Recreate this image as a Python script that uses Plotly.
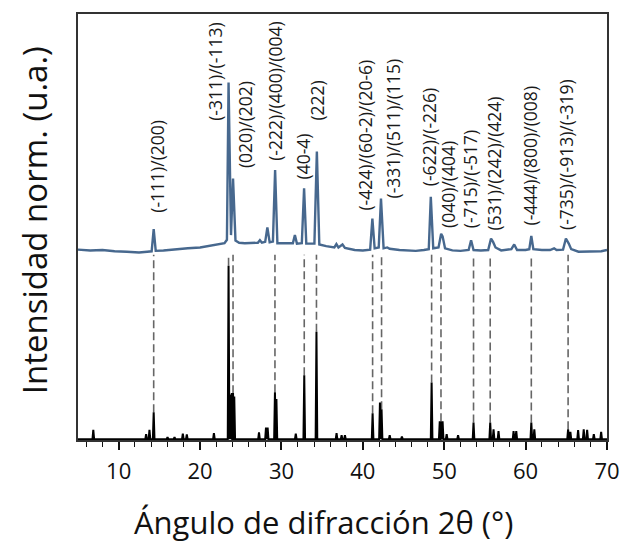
import plotly.graph_objects as go

blue_x = [5.0, 6.5, 8.0, 9.5, 11.0, 12.5, 13.5, 14.05, 14.3, 14.55, 15.5, 17.0, 18.5, 20.0,
          21.0, 22.0, 23.0, 23.3, 23.5, 23.8, 24.05, 24.35, 24.8, 25.5, 26.5, 27.1, 27.35,
          27.6, 28.0, 28.27, 28.55, 28.95, 29.22, 29.5, 30.5, 31.4, 31.65, 31.9, 32.5, 32.78,
          33.05, 34.05, 34.35, 34.65, 35.5, 36.5, 36.75, 37.0, 37.5, 37.8, 39.0, 40.0, 40.9,
          41.17, 41.45, 41.95, 42.23, 42.55, 43.0, 43.3, 44.5, 45.5, 46.5, 47.5, 48.1, 48.35,
          48.65, 49.3, 49.62, 49.8, 50.1, 51.0, 52.0, 53.0, 53.3, 53.6, 54.5, 55.4, 55.75,
          56.0, 56.3, 57.0, 57.8, 58.25, 58.6, 58.95, 60.0, 60.45, 60.7, 60.95, 62.0, 63.0,
          63.5, 63.8, 64.6, 64.95, 65.3, 65.6, 66.5, 67.5, 68.5, 69.3, 70.0]
blue_y = [0.447, 0.445, 0.446, 0.443, 0.442, 0.440, 0.442, 0.443, 0.495, 0.444, 0.445, 0.448,
          0.450, 0.452, 0.455, 0.458, 0.462, 0.470, 0.839, 0.481, 0.614, 0.468, 0.463, 0.462,
          0.462, 0.463, 0.469, 0.463, 0.465, 0.499, 0.464, 0.466, 0.634, 0.462, 0.462, 0.462,
          0.481, 0.461, 0.462, 0.591, 0.461, 0.461, 0.677, 0.459, 0.455, 0.452, 0.460, 0.452,
          0.459, 0.451, 0.446, 0.445, 0.447, 0.520, 0.450, 0.452, 0.567, 0.450, 0.452, 0.449,
          0.446, 0.445, 0.444, 0.446, 0.448, 0.571, 0.450, 0.452, 0.484, 0.478, 0.450, 0.445,
          0.444, 0.446, 0.469, 0.446, 0.445, 0.446, 0.473, 0.465, 0.452, 0.445, 0.446, 0.448,
          0.459, 0.446, 0.446, 0.448, 0.479, 0.448, 0.446, 0.446, 0.450, 0.446, 0.447, 0.473,
          0.461, 0.448, 0.442, 0.442, 0.443, 0.443, 0.446]

# ---- reference pattern (black): peak positions and heights
ref_pos = [6.88, 13.37, 13.78, 14.3, 16.0, 16.86, 17.88, 18.37, 21.7, 23.5, 23.7, 23.9,
           24.05, 24.2, 27.24, 28.1, 28.3, 29.2, 29.38, 31.76, 32.8, 34.3, 36.77, 37.39,
           37.8, 41.2, 42.1, 42.3, 43.3, 44.8, 48.45, 49.45, 49.6, 49.8, 50.3, 51.7, 53.6,
           55.65, 56.06, 56.67, 58.52, 58.85, 60.7, 61.07, 65.22, 65.5, 66.45, 67.14, 67.56,
           68.38, 69.28]
ref_int = [0.022, 0.012, 0.022, 0.063, 0.005, 0.005, 0.013, 0.011, 0.014, 0.407, 0.105,
           0.108, 0.108, 0.100, 0.016, 0.027, 0.027, 0.110, 0.094, 0.013, 0.150, 0.252,
           0.014, 0.009, 0.009, 0.061, 0.086, 0.070, 0.009, 0.006, 0.133, 0.042, 0.042,
           0.042, 0.012, 0.009, 0.039, 0.039, 0.023, 0.019, 0.019, 0.019, 0.039, 0.023,
           0.023, 0.017, 0.021, 0.023, 0.022, 0.012, 0.017]

# ---- indexed reflections
hkl_pos = [14.3, 23.5, 24.05, 29.2, 32.8, 34.3, 41.2, 42.3, 48.45, 49.6, 53.6, 55.65,
           60.7, 65.22]
hkl_text = ["(-111)/(200)", "(-311)/(-113)", "(020)/(202)", "(-222)/(400)/(004)", "(40-4)",
            "(222)", "(-424)/(60-2)/(20-6)", "(-331)/(511)/(115)", "(-622)/(-226)",
            "(040)/(404)", "(-715)/(-517)", "(531)/(242)/(424)", "(-444)/(800)/(008)",
            "(-735)/(-913)/(-319)"]
label_x = [14.6, 21.8, 25.6, 29.17, 32.6, 34.43, 40.26, 43.74, 48.05, 50.52, 53.19, 56.15,
           60.49, 64.89]
label_y = [0.528, 0.744, 0.634, 0.650, 0.606, 0.744, 0.535, 0.563, 0.592, 0.493, 0.493,
           0.488, 0.498, 0.488]

BASE = 0.002
HW = 0.1
DASH_TOP = 0.435

bx, by = [5.0], [BASE]
for p, h in sorted(zip(ref_pos, ref_int)):
    bx += [p - HW, p, p + HW]
    by += [BASE, BASE + h, BASE]
bx.append(70.0)
by.append(BASE)

fig = go.Figure()

# dashed guide lines
for p in hkl_pos:
    i = min(range(len(ref_pos)), key=lambda k: abs(ref_pos[k] - p))
    fig.add_trace(go.Scatter(x=[p, p], y=[BASE + ref_int[i], DASH_TOP], mode="lines",
                             line=dict(color="#666666", width=1.6, dash="8px,4px"),
                             hoverinfo="skip", showlegend=False))

fig.add_trace(go.Scatter(x=bx, y=by, mode="lines", line=dict(color="black", width=2),
                         showlegend=False))
fig.add_trace(go.Scatter(x=blue_x, y=blue_y, mode="lines",
                         line=dict(color="#47688e", width=2.4), showlegend=False))

for t, x, y in zip(hkl_text, label_x, label_y):
    fig.add_annotation(x=x, y=y, text=t, textangle=-90, showarrow=False,
                       xanchor="center", yanchor="bottom",
                       font=dict(family="Open Sans", size=17.5, color="#1a1a1a"))

fig.add_annotation(xref="paper", yref="paper", x=0.465, y=-0.193, text="Ángulo de difracción 2θ (°)",
                   showarrow=False, xanchor="center", yanchor="middle",
                   font=dict(family="Open Sans", size=31, color="#111"))
fig.add_annotation(xref="paper", yref="paper", x=-0.083, y=0.516, text="Intensidad norm. (u.a.)",
                   textangle=-90, showarrow=False, xanchor="center", yanchor="middle",
                   font=dict(family="Open Sans", size=33, color="#111"))

fig.update_layout(
    width=621, height=546,
    margin=dict(l=78, r=14, t=14, b=106, autoexpand=False),
    paper_bgcolor="white", plot_bgcolor="white",
    font=dict(family="Open Sans", color="#111"),
    xaxis=dict(range=[5, 70], dtick=10, tick0=0, ticks="outside", ticklen=8, tickwidth=1.5,
               tickcolor="#111", showline=True, linecolor="#333", linewidth=1.5, mirror=True,
               showgrid=False, zeroline=False, automargin=False,
               tickfont=dict(size=22, family="Open Sans"), ticklabelstandoff=3,
               minor=dict(dtick=2, ticks="outside", ticklen=5, tickwidth=1.2, tickcolor="#111")),
    yaxis=dict(range=[0, 1], showticklabels=False, ticks="", showline=True, linecolor="#333",
               linewidth=1.5, mirror=True, showgrid=False, zeroline=False, automargin=False),
)

fig.write_html("out.html")
